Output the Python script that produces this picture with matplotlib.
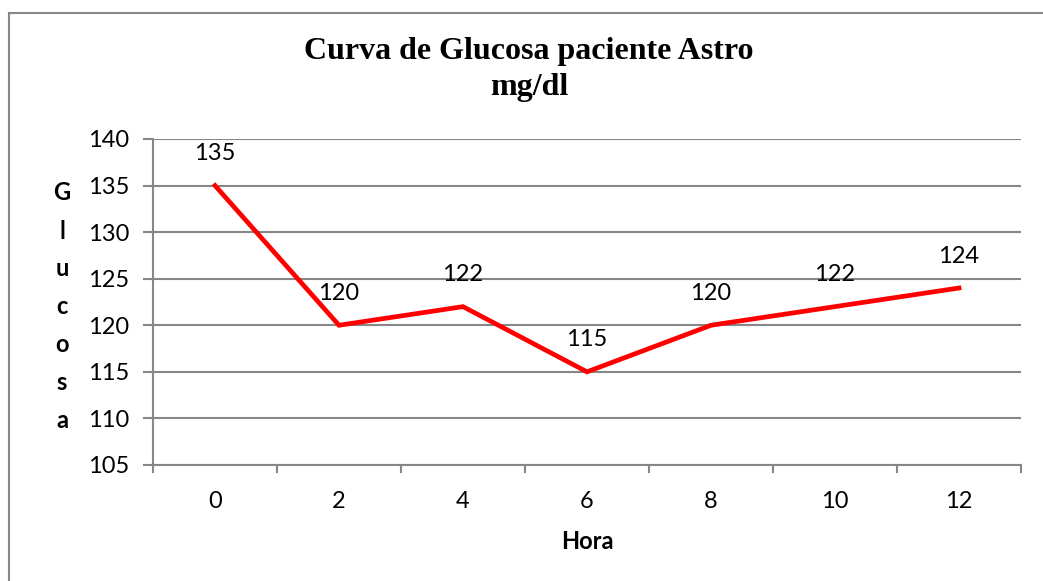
import matplotlib
matplotlib.use("Agg")
import matplotlib.pyplot as plt
from matplotlib.lines import Line2D

# ── Data ────────────────────────────────────────────────────────
horas = ["0", "2", "4", "6", "8", "10", "12"]
glucosa = [135, 120, 122, 115, 120, 122, 124]
y_ticks = [105, 110, 115, 120, 125, 130, 135, 140]

SANS = ["Lato", "DejaVu Sans"]
SERIF = ["Liberation Serif", "DejaVu Serif"]
GRID = "#878787"
FS = 17

fig = plt.figure(figsize=(10.43, 5.81), dpi=100)
ax = fig.add_axes([0.1467, 0.1997, 0.8322, 0.5611])

x = list(range(len(horas)))
ax.plot(x, glucosa, color="#FF0000", linewidth=3.4, solid_joinstyle="miter")

for xi, v in zip(x, glucosa):
    ax.annotate(str(v), (xi, v), xytext=(0, 23), textcoords="offset points",
                ha="center", va="center", fontsize=FS, family=SANS)

ax.set_xlim(-0.5, len(horas) - 0.5)
ax.set_ylim(105, 140)
ax.set_yticks(y_ticks)
ax.set_yticklabels([str(t) for t in y_ticks], fontsize=FS, family=SANS)
ax.set_xticks(x)
ax.set_xticklabels(horas, fontsize=FS, family=SANS)
ax.set_xticks([i - 0.5 for i in range(len(horas) + 1)], minor=True)

ax.tick_params(axis="x", which="major", length=0, pad=19)
ax.tick_params(axis="x", which="minor", length=6, width=1.5, color=GRID, direction="out")
ax.tick_params(axis="y", length=7, width=1.5, color=GRID, direction="out", pad=10)

ax.grid(axis="y", color=GRID, linewidth=1.5)
ax.set_axisbelow(True)
for side in ["top", "right"]:
    ax.spines[side].set_visible(False)
for side in ["left", "bottom"]:
    ax.spines[side].set_color(GRID)
    ax.spines[side].set_linewidth(1.5)

ax.set_xlabel("Hora", fontsize=FS, fontweight="bold", family=SANS, labelpad=13)

# vertical stacked y label
for i, ch in enumerate("Glucosa"):
    fig.text(62 / 1043, 1 - (193 + i * 38.0) / 581, ch, ha="center", va="center",
             fontsize=FS, fontweight="bold", family=SANS)

fig.text(529 / 1043, 1 - 52 / 581, "Curva de Glucosa paciente Astro",
         ha="center", va="center", fontsize=23, fontweight="bold", family=SERIF)
fig.text(529 / 1043, 1 - 88 / 581, "mg/dl",
         ha="center", va="center", fontsize=23, fontweight="bold", family=SERIF)

# outer chart border
x0, y0 = 8.5 / 1043, 1 - 12.5 / 581
fig.add_artist(Line2D([x0, 1.0], [y0, y0], transform=fig.transFigure, color=GRID, linewidth=1.5))
fig.add_artist(Line2D([x0, x0], [0.0, y0], transform=fig.transFigure, color=GRID, linewidth=1.5))

fig.savefig("out.png", dpi=100)
